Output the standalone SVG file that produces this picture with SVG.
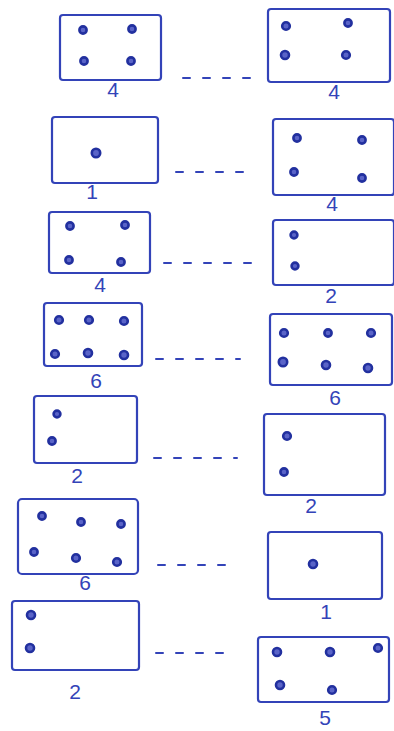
<svg xmlns="http://www.w3.org/2000/svg" width="394" height="731" viewBox="0 0 394 731">
<style>
.box{fill:none;stroke:#3343b8;stroke-width:2.2;stroke-linejoin:round}
.dot{fill:#5a64c8;stroke:#22309f;stroke-width:2.6}
.lbl{font-family:"Liberation Sans",Arial,sans-serif;font-size:21px;fill:#3343b8;text-anchor:middle}
.con{stroke:#3343b8;stroke-width:2;stroke-dasharray:7 13;fill:none;stroke-linecap:round}
</style>
<rect width="394" height="731" fill="#ffffff"/>
<g id="connectors">
<line class="con" x1="183" y1="78" x2="250" y2="78"/>
<line class="con" x1="176" y1="172" x2="253" y2="172"/>
<line class="con" x1="164" y1="263" x2="251" y2="263"/>
<line class="con" x1="156" y1="359" x2="240" y2="359"/>
<line class="con" x1="154" y1="458" x2="237" y2="458"/>
<line class="con" x1="158" y1="565" x2="238" y2="565"/>
<line class="con" x1="156" y1="653" x2="229" y2="653"/>
</g>
<g id="L1"><rect class="box" x="60" y="15" width="101" height="65" rx="3"/>
<circle class="dot" cx="83" cy="30" r="3.6"/><circle class="dot" cx="132" cy="29" r="3.6"/><circle class="dot" cx="84" cy="61" r="3.6"/><circle class="dot" cx="131" cy="61" r="3.6"/>
<text class="lbl" x="113" y="97">4</text></g>
<g id="L2"><rect class="box" x="52" y="117" width="106" height="66" rx="3"/>
<circle class="dot" cx="96" cy="153" r="4.2"/>
<text class="lbl" x="92" y="199">1</text></g>
<g id="L3"><rect class="box" x="49" y="212" width="101" height="61" rx="3"/>
<circle class="dot" cx="70" cy="226" r="3.6"/><circle class="dot" cx="125" cy="225" r="3.6"/><circle class="dot" cx="69" cy="260" r="3.6"/><circle class="dot" cx="121" cy="262" r="3.6"/>
<text class="lbl" x="100" y="292">4</text></g>
<g id="L4"><rect class="box" x="44" y="303" width="98" height="63" rx="3"/>
<circle class="dot" cx="59" cy="320" r="3.8"/><circle class="dot" cx="89" cy="320" r="3.8"/><circle class="dot" cx="124" cy="321" r="3.8"/><circle class="dot" cx="55" cy="354" r="3.8"/><circle class="dot" cx="88" cy="353" r="4"/><circle class="dot" cx="124" cy="355" r="4"/>
<text class="lbl" x="96" y="388">6</text></g>
<g id="L5"><rect class="box" x="34" y="396" width="103" height="67" rx="3"/>
<circle class="dot" cx="57" cy="414" r="3.4"/><circle class="dot" cx="52" cy="441" r="3.6"/>
<text class="lbl" x="77" y="483">2</text></g>
<g id="L6"><rect class="box" x="18" y="499" width="120" height="75" rx="4"/>
<circle class="dot" cx="42" cy="516" r="3.6"/><circle class="dot" cx="81" cy="522" r="3.6"/><circle class="dot" cx="121" cy="524" r="3.6"/><circle class="dot" cx="34" cy="552" r="3.6"/><circle class="dot" cx="76" cy="558" r="3.8"/><circle class="dot" cx="117" cy="562" r="3.8"/>
<text class="lbl" x="85" y="590">6</text></g>
<g id="L7"><rect class="box" x="12" y="601" width="127" height="69" rx="3"/>
<circle class="dot" cx="31" cy="615" r="4"/><circle class="dot" cx="30" cy="648" r="4"/>
<text class="lbl" x="75" y="699">2</text></g>
<g id="R1"><rect class="box" x="268" y="9" width="122" height="73" rx="3"/>
<circle class="dot" cx="286" cy="26" r="3.8"/><circle class="dot" cx="348" cy="23" r="3.6"/><circle class="dot" cx="285" cy="55" r="4"/><circle class="dot" cx="346" cy="55" r="3.8"/>
<text class="lbl" x="334" y="99">4</text></g>
<g id="R2"><rect class="box" x="273" y="119" width="121" height="76" rx="3"/>
<circle class="dot" cx="297" cy="138" r="3.6"/><circle class="dot" cx="362" cy="140" r="3.6"/><circle class="dot" cx="294" cy="172" r="3.6"/><circle class="dot" cx="362" cy="178" r="3.6"/>
<text class="lbl" x="332" y="211">4</text></g>
<g id="R3"><rect class="box" x="273" y="220" width="121" height="65" rx="3"/>
<circle class="dot" cx="294" cy="235" r="3.4"/><circle class="dot" cx="295" cy="266" r="3.4"/>
<text class="lbl" x="331" y="303">2</text></g>
<g id="R4"><rect class="box" x="270" y="314" width="122" height="71" rx="3"/>
<circle class="dot" cx="284" cy="333" r="3.8"/><circle class="dot" cx="328" cy="333" r="3.6"/><circle class="dot" cx="371" cy="333" r="3.8"/><circle class="dot" cx="283" cy="362" r="4.2"/><circle class="dot" cx="326" cy="365" r="4"/><circle class="dot" cx="368" cy="368" r="4"/>
<text class="lbl" x="335" y="405">6</text></g>
<g id="R5"><rect class="box" x="264" y="414" width="121" height="81" rx="3"/>
<circle class="dot" cx="287" cy="436" r="3.8"/><circle class="dot" cx="284" cy="472" r="3.6"/>
<text class="lbl" x="311" y="513">2</text></g>
<g id="R6"><rect class="box" x="268" y="532" width="114" height="67" rx="3"/>
<circle class="dot" cx="313" cy="564" r="4"/>
<text class="lbl" x="326" y="619">1</text></g>
<g id="R7"><rect class="box" x="258" y="637" width="131" height="65" rx="3"/>
<circle class="dot" cx="277" cy="652" r="4"/><circle class="dot" cx="330" cy="652" r="4"/><circle class="dot" cx="378" cy="648" r="3.8"/><circle class="dot" cx="280" cy="685" r="4"/><circle class="dot" cx="332" cy="690" r="3.8"/>
<text class="lbl" x="325" y="725">5</text></g>
</svg>
